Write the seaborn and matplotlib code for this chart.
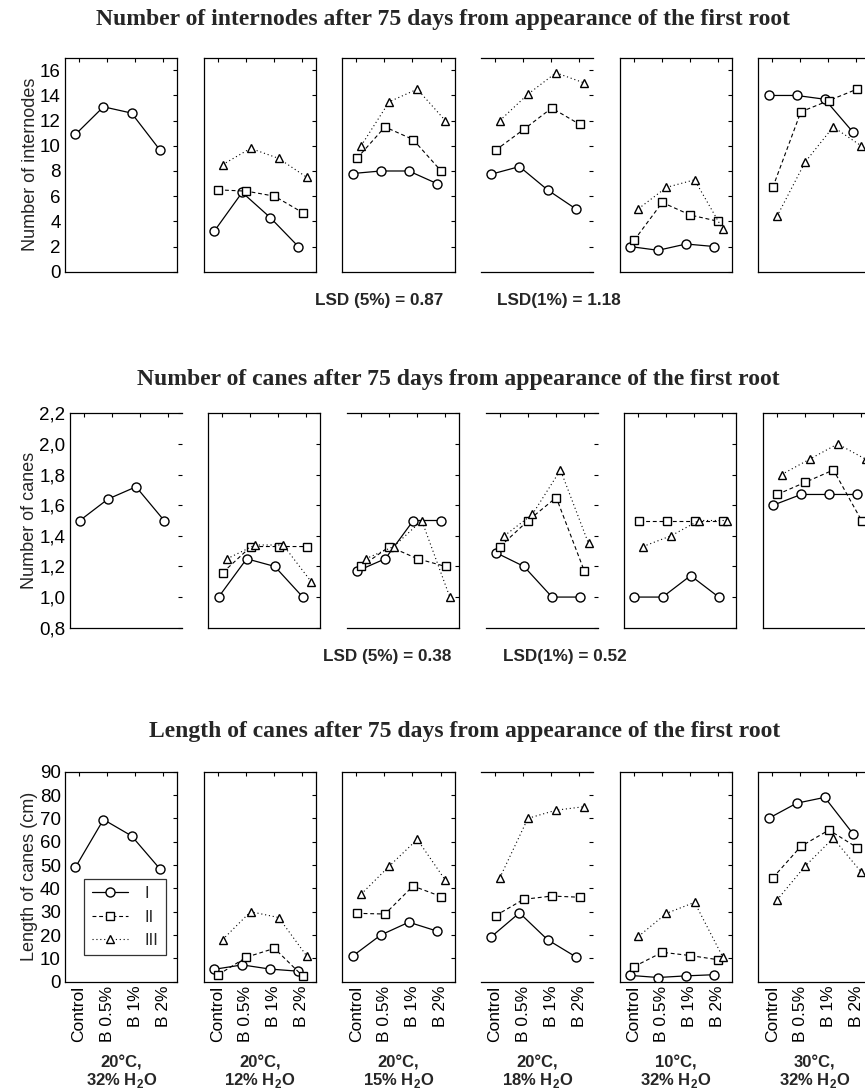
import numpy as np
import pandas as pd
import matplotlib
matplotlib.use("Agg")
import matplotlib.pyplot as plt
from matplotlib.lines import Line2D
from matplotlib.ticker import FuncFormatter
import seaborn as sns

sns.set_theme(style="white")
plt.rcParams["font.family"] = ["Liberation Sans", "DejaVu Sans"]
plt.rcParams["mathtext.fontset"] = "custom"
plt.rcParams["mathtext.rm"] = "Liberation Sans"
plt.rcParams["mathtext.bf"] = "Liberation Sans:bold"

# --- data ---
categories = ["Control", "B 0.5%", "B 1%", "B 2%"]
temps = ["20°C,", "20°C,", "20°C,", "20°C,", "10°C,", "30°C,"]
waters = ["32% H$_\\mathbf{2}$O", "12% H$_\\mathbf{2}$O", "15% H$_\\mathbf{2}$O",
          "18% H$_\\mathbf{2}$O", "32% H$_\\mathbf{2}$O", "32% H$_\\mathbf{2}$O"]
series = ["I", "II", "III"]

# number of internodes (one list of 4 values per panel, None = not measured)
internodes_I = [[10.9, 13.1, 12.6, 9.7], [3.2, 6.3, 4.3, 2.0], [7.8, 8.0, 8.0, 7.0],
                [7.75, 8.35, 6.5, 5.0], [2.0, 1.7, 2.2, 2.0], [14.0, 14.0, 13.7, 11.1]]
internodes_II = [None, [6.5, 6.4, 6.0, 4.7], [9.0, 11.5, 10.5, 8.0],
                 [9.65, 11.3, 13.0, 11.7], [2.5, 5.5, 4.5, 4.0], [6.7, 12.7, 13.6, 14.5]]
internodes_III = [None, [8.5, 9.8, 9.0, 7.5], [10.0, 13.5, 14.5, 12.0],
                  [12.0, 14.1, 15.8, 15.0], [5.0, 6.7, 7.3, 3.4], [4.4, 8.7, 11.5, 10.0]]

# number of canes
canes_I = [[1.5, 1.64, 1.72, 1.5], [1.0, 1.25, 1.2, 1.0], [1.17, 1.25, 1.5, 1.5],
           [1.29, 1.2, 1.0, 1.0], [1.0, 1.0, 1.14, 1.0], [1.6, 1.67, 1.67, 1.67]]
canes_II = [None, [1.16, 1.33, 1.33, 1.33], [1.2, 1.33, 1.25, 1.2],
            [1.33, 1.5, 1.65, 1.17], [1.5, 1.5, 1.5, 1.5], [1.67, 1.75, 1.83, 1.5]]
canes_III = [None, [1.25, 1.34, 1.34, 1.1], [1.25, 1.33, 1.5, 1.0],
             [1.4, 1.54, 1.83, 1.35], [1.33, 1.4, 1.5, 1.5], [1.8, 1.9, 2.0, 1.9]]

# length of canes (cm)
length_I = [[49, 69.5, 62.5, 48.5], [5.3, 7.2, 5.4, 4.5], [11, 20, 25.5, 21.7],
            [19.3, 29.5, 18, 10.7], [2.7, 1.8, 2.5, 3.0], [70, 76.5, 79, 63.5]]
length_II = [None, [3, 10.5, 14.3, 2.5], [29.3, 29, 41, 36.5],
             [28.3, 35.3, 36.7, 36.2], [6.5, 12.6, 11.2, 9.4], [44.5, 58, 65, 57.5]]
length_III = [None, [18, 30, 27.5, 11], [37.5, 49.5, 61, 43.5],
              [44.5, 70, 73.5, 75], [19.4, 29.3, 34, 10.7], [35, 49.5, 61.5, 47]]

titles = ["Number of internodes after 75 days from appearance of the first root",
          "Number of canes after 75 days from appearance of the first root",
          "Length of canes after 75 days from appearance of the first root"]
ylabels = ["Number of internodes", "Number of canes", "Length of canes (cm)"]
lsd_5 = ["LSD (5%) = 0.87", "LSD (5%) = 0.38", None]
lsd_1 = ["LSD(1%) = 1.18", "LSD(1%) = 0.52", None]

rows_data = [
    [internodes_I, internodes_II, internodes_III],
    [canes_I, canes_II, canes_III],
    [length_I, length_II, length_III],
]

records = []
for r, row in enumerate(rows_data):
    for s, per_panel in zip(series, row):
        for p, vals in enumerate(per_panel):
            if vals is None:
                continue
            for c, v in enumerate(vals):
                records.append({"row": r, "panel": p, "series": s, "cat": c, "value": v})
df = pd.DataFrame(records)

# --- style ---
offsets = {"I": -0.13, "II": 0.02, "III": 0.17}
df["x"] = df["cat"] + df["series"].map(offsets)
markers = {"I": "o", "II": "s", "III": "^"}
dashes = {"I": "", "II": (3.5, 2.5), "III": (1, 2.5)}
msizes = {"I": 6.5, "II": 6.2, "III": 6.2}

ylims = [(0, 17), (0.8, 2.2), (0, 90)]
yticks = [np.arange(0, 17, 2), np.arange(0.8, 2.21, 0.2), np.arange(0, 91, 10)]

W, H = 865, 1092
fig = plt.figure(figsize=(W / 100, H / 100), dpi=100)

lefts = [65, 203.7, 342.3, 481, 619.6, 758.2]
row_shift = [0, 4.5, 0]
pw = 112.3
row_box = [(57.7, 271.7), (413.3, 627.7), (771.7, 981.7)]
# which side spines survive in the original print (left, right)
side_spines = [
    [(1, 1), (1, 1), (1, 1), (0, 0), (1, 1), (1, 1)],
    [(1, 0), (1, 1), (0, 1), (0, 0), (1, 1), (1, 1)],
    [(1, 1), (1, 1), (1, 1), (0, 0), (1, 1), (1, 1)],
]

for r in range(3):
    top, bot = row_box[r]
    for p in range(6):
        left = lefts[p] + row_shift[r]
        ax = fig.add_axes([left / W, 1 - bot / H, pw / W, (bot - top) / H])
        sub = df[(df["row"] == r) & (df["panel"] == p)]
        for s in series:
            d = sub[sub["series"] == s]
            if d.empty:
                continue
            sns.lineplot(data=d, x="x", y="value", ax=ax, color="black",
                         linewidth=0.9 if s == "I" else 0.8,
                         marker=markers[s], markersize=msizes[s],
                         markerfacecolor="white", markeredgecolor="black",
                         markeredgewidth=1.0, legend=False)
            if dashes[s]:
                ax.lines[-1].set_dashes(dashes[s])
        ax.set_xlim(-0.5, 3.5)
        ax.set_ylim(*ylims[r])
        ax.set_yticks(yticks[r])
        ax.set_xticks(range(4))
        ax.set_xlabel("")
        ax.set_ylabel("")
        ax.tick_params(direction="in", top=True, right=True, length=3, width=0.8,
                       colors="black", labelsize=13.5, pad=3)
        for side in ["top", "bottom", "left", "right"]:
            ax.spines[side].set_color("black")
            ax.spines[side].set_linewidth(0.9)
        ax.spines["left"].set_visible(bool(side_spines[r][p][0]))
        ax.spines["right"].set_visible(bool(side_spines[r][p][1]))
        if p == 0:
            ax.set_ylabel(ylabels[r], fontsize=13, labelpad=1)
            if r == 1:
                ax.yaxis.set_major_formatter(FuncFormatter(lambda v, _: f"{v:.1f}".replace(".", ",")))
        else:
            ax.set_yticklabels([])
        if r == 2:
            ax.set_xticklabels(categories, rotation=90, fontsize=12.5)
            cx = (left + pw / 2) / W
            fig.text(cx, 1 - 1063 / H, temps[p], ha="center", va="center",
                     fontsize=12, fontweight="bold")
            fig.text(cx, 1 - 1081 / H, waters[p], ha="center", va="center",
                     fontsize=12, fontweight="bold")
        else:
            ax.set_xticklabels([])
        if r == 2 and p == 0:
            handles = [Line2D([], [], color="black", lw=0.9 if s == "I" else 0.8,
                              marker=markers[s], markersize=msizes[s],
                              markerfacecolor="white", markeredgecolor="black",
                              dashes=dashes[s] if dashes[s] else (None, None))
                       for s in series]
            leg = ax.legend(handles, series, loc="upper left",
                            bbox_to_anchor=(0.17, 0.49), frameon=True, fancybox=False,
                            edgecolor="black", fontsize=12, handlelength=2.2,
                            handletextpad=1.0, labelspacing=0.5, borderpad=0.45,
                            borderaxespad=0)
            leg.get_frame().set_linewidth(0.9)

    fig.text([443, 458, 465][r] / W, 1 - [20, 380, 732][r] / H, titles[r],
             ha="center", va="center", fontsize=17, fontweight="bold",
             family="Liberation Serif")
    if lsd_5[r]:
        y = [300, 657][r]
        fig.text([315, 323][r] / W, 1 - y / H, lsd_5[r], ha="left", va="center",
                 fontsize=12.3, fontweight="bold")
        fig.text([497, 503][r] / W, 1 - y / H, lsd_1[r], ha="left", va="center",
                 fontsize=12.3, fontweight="bold")

fig.savefig("out.png", dpi=100)
